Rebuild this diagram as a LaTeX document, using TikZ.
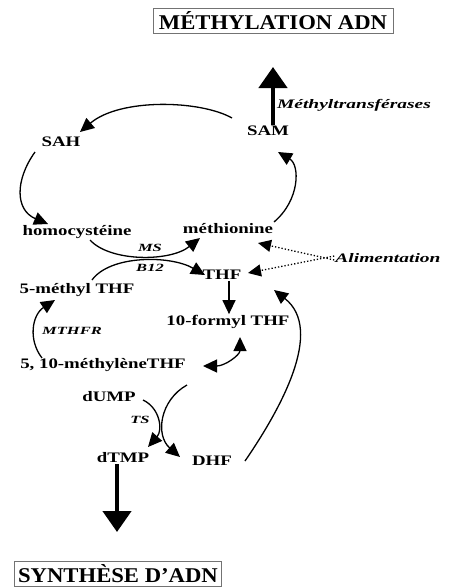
\documentclass[tikz,border=0pt]{standalone}
\usepackage{fontspec}
\setmainfont{Liberation Serif}
\newfontfamily\cmpfont[FakeStretch=1.3]{Liberation Serif}
\newfontfamily\enzfont[FakeStretch=1.5]{Liberation Serif}
\newfontfamily\ttlfont[FakeStretch=1.08]{Liberation Serif}
\usetikzlibrary{arrows.meta}

\begin{document}
\begin{tikzpicture}[x=1pt, y=-1pt,
	cmp/.style={font=\cmpfont\bfseries\fontsize{14.5}{16}\selectfont, inner sep=1pt},
	enz/.style={font=\enzfont\bfseries\itshape\fontsize{13}{15}\selectfont, inner sep=1pt},
	enzs/.style={font=\enzfont\bfseries\itshape\fontsize{11}{13}\selectfont, inner sep=1pt},
	ttl/.style={draw=black!55, line width=1pt, font=\ttlfont\bfseries\fontsize{21}{24}\selectfont, inner sep=2pt, minimum height=25pt},
	rxn/.style={line width=1.3pt, -{Triangle[length=14pt, width=13pt]}},
	food/.style={line width=1.3pt, dash pattern=on 1.3pt off 2pt, -{Triangle[length=13pt, width=12pt]}},
	big/.style={line width=4.5pt, -{Triangle[length=21pt, width=28pt]}}]
	\useasboundingbox (0,0) rectangle (449,587);
	% titles
	\node[ttl, minimum width=240pt] (meth) at (273,21) {MÉTHYLATION ADN};
	\node[ttl, minimum width=207pt] (synth) at (118,574) {SYNTHÈSE D’ADN};
	% compounds
	\node[cmp] (SAM) at (268,131) {SAM};
	\node[cmp] (SAH) at (61,142) {SAH};
	\node[cmp] (homo) at (77,232) {homocystéine};
	\node[cmp] (methio) at (228,229) {méthionine};
	\node[cmp] (THF) at (222,275) {THF};
	\node[cmp] (mthf) at (77,290) {5-méthyl THF};
	\node[cmp] (formyl) at (228,322) {10-formyl THF};
	\node[cmp] (mene) at (103,365) {5, 10-méthylèneTHF};
	\node[cmp] (dUMP) at (109,397) {dUMP};
	\node[cmp] (dTMP) at (123,458) {dTMP};
	\node[cmp] (DHF) at (212,461) {DHF};
	% enzymes and cofactors
	\node[enz] (mtase) at (354,105) {Méthyltransférases};
	\node[enz] (alim) at (388,258) {Alimentation};
	\node[enzs] (ms) at (150,248) {MS};
	\node[enzs] (b12) at (150,268) {B12};
	\node[enzs] (mthfr) at (72,331) {MTHFR};
	\node[enzs] (ts) at (140,420) {TS};
	\coordinate (up) at (273,67);
	\coordinate (down) at (117,532);
	% big arrows
	\draw[big] ([xshift=5pt]SAM.north) -- (up);
	\draw[big] ([xshift=-6pt]dTMP.south) -- (down);
	% methionine cycle
	\draw[rxn] ([shift={(-36,-13)}]SAM.center) .. controls ([shift={(-68,-31)}]SAM.center) and ([shift={(59,-44)}]SAH.center) .. ([shift={(19,-10)}]SAH.center);
	\draw[rxn] ([shift={(-26,10)}]SAH.center) .. controls ([shift={(-46,38)}]SAH.center) and ([shift={(-62,-22)}]homo.center) .. ([shift={(-29,-8)}]homo.center);
	\draw[rxn] ([shift={(46,-7)}]methio.center) .. controls ([shift={(72,-29)}]methio.center) and ([shift={(32,34)}]SAM.center) .. ([shift={(10,21)}]SAM.center);
	\draw[rxn] ([shift={(13,8)}]homo.center) .. controls ([shift={(33,30)}]homo.center) and ([shift={(-58,33)}]methio.center) .. ([shift={(-28,9)}]methio.center);
	% folate cycle
	\draw[rxn] ([shift={(15,-10)}]mthf.center) .. controls ([shift={(33,-35)}]mthf.center) and ([shift={(-52,-20)}]THF.center) .. ([shift={(-17,0)}]THF.center);
	\draw[rxn] ([xshift=7pt]THF.south) -- ([xshift=1pt]formyl.north);
	\draw[rxn] ([shift={(-61,-7)}]mene.center) .. controls ([shift={(-75,-25)}]mene.center) and ([shift={(-45,25)}]mthf.center) .. ([shift={(-22,10)}]mthf.center);
	\draw[rxn, {Triangle[length=14pt, width=13pt]}-{Triangle[length=14pt, width=13pt]}] ([shift={(-25,44)}]formyl.center) .. controls ([shift={(-3,44)}]formyl.center) and ([shift={(12,33)}]formyl.center) .. ([shift={(12,15)}]formyl.center);
	% thymidylate synthase
	\draw[rxn] ([shift={(34,3)}]dUMP.center) .. controls ([shift={(51,11)}]dUMP.center) and ([shift={(40,-28)}]dTMP.center) .. ([shift={(25,-11)}]dTMP.center);
	\draw[rxn] ([shift={(84,20)}]mene.center) .. controls ([shift={(57,35)}]mene.center) and ([shift={(-57,-26)}]DHF.center) .. ([shift={(-32,-4)}]DHF.center);
	\draw[rxn] ([shift={(33,0)}]DHF.center) .. controls ([shift={(68,-51)}]DHF.center) and ([shift={(103,55)}]THF.center) .. ([shift={(52,15)}]THF.center);
	% food intake
	\draw[food] ([yshift=-2pt]alim.west) -- ([shift={(30,14)}]methio.center);
	\draw[food] ([yshift=2pt]alim.west) -- ([shift={(26,-2)}]THF.center);
\end{tikzpicture}
\end{document}
